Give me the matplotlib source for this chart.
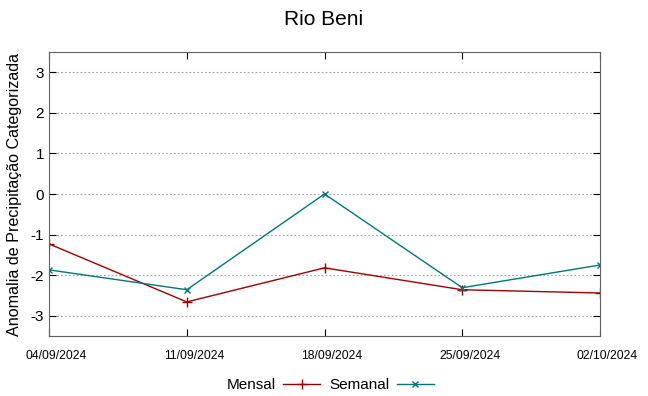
import matplotlib
matplotlib.use("Agg")
import matplotlib.pyplot as plt

plt.rcParams['font.family'] = ['Liberation Sans', 'DejaVu Sans']
plt.rcParams['axes.unicode_minus'] = False

dates = ["04/09/2024", "11/09/2024", "18/09/2024", "25/09/2024", "02/10/2024"]
mensal = [-1.23, -2.66, -1.82, -2.36, -2.44]
semanal = [-1.87, -2.36, 0.0, -2.31, -1.75]

x = list(range(len(dates)))

fig = plt.figure(figsize=(6.48, 3.96), dpi=100)
ax = fig.add_axes([49/648, 60/396, 551/648, 284/396])

ax.plot(x, mensal, color='#a00000', lw=1, marker='+', ms=7, mew=1, label='Mensal')
ax.plot(x, semanal, color='#007878', lw=1, marker='x', ms=5, mew=1, label='Semanal')

ax.set_xlim(0, 4)
ax.set_ylim(-3.5, 3.5)
ax.set_xticks(x)
ax.set_xticklabels([])
# gnuplot puts the date labels a little right of the tick
for xi, d in zip(x, dates):
    ax.annotate(d, (xi, 0), xycoords=('data', 'axes fraction'), xytext=(5.4, -10),
                textcoords='offset points', ha='center', va='top', fontsize=8.7,
                annotation_clip=False)
ax.set_yticks([-3, -2, -1, 0, 1, 2, 3])
ax.tick_params(axis='y', labelsize=11, direction='in', right=True, length=5)
ax.tick_params(axis='x', direction='in', top=True, length=5)
ax.grid(axis='y', color='#a0a0a0', linestyle=(0, (1.5, 2)), lw=0.8)
for s in ax.spines.values():
    s.set_color('#606060')

ax.set_ylabel("Anomalia de Precipitação Categorizada", fontsize=11.6, labelpad=6)
fig.suptitle("Rio Beni", fontsize=15, y=0.975)

ax.legend(loc='upper center', bbox_to_anchor=(0.51, -0.1), ncol=2, frameon=False,
          markerfirst=False, fontsize=11, handlelength=2.4, handletextpad=0.5,
          columnspacing=0.6)

fig.savefig("out.png", dpi=100)
